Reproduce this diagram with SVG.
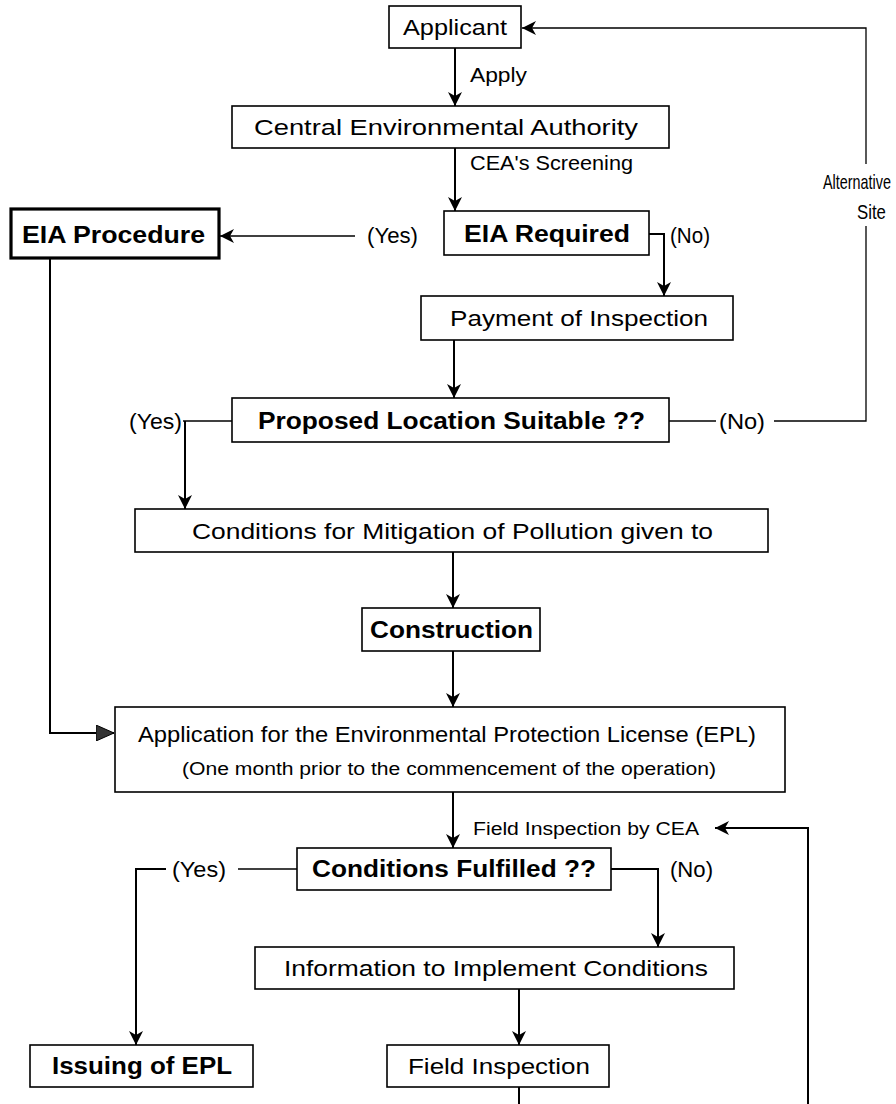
<svg xmlns="http://www.w3.org/2000/svg" width="896" height="1104" viewBox="0 0 896 1104">
<style>
.box{fill:#fff;stroke:#000;stroke-width:1.6}
.thick{fill:#fff;stroke:#000;stroke-width:3.2}
.t{font-family:"Liberation Sans Narrow","Liberation Sans",Arial,sans-serif;font-size:22px;fill:#000}
.b{font-weight:bold;font-size:23px}
.s{font-size:20px}
.xs{font-size:18px}
.c{fill:none;stroke:#000;stroke-width:2}
.l{fill:none;stroke:#000;stroke-width:1.3}
</style>
<defs>
<marker id="ah" markerUnits="userSpaceOnUse" markerWidth="16" markerHeight="14" refX="14" refY="7" orient="auto">
<path d="M0,0 L14,7 L0,14 L4,7 Z" fill="#000"/>
</marker>
<marker id="ahg" markerUnits="userSpaceOnUse" markerWidth="20" markerHeight="16" refX="18" refY="8" orient="auto">
<path d="M0,0 L18,8 L0,16 Z" fill="#333" stroke="#000" stroke-width="1"/>
</marker>
</defs>
<rect width="896" height="1104" fill="#fff"/>
<g id="connectors">
<line class="c" x1="455" y1="48" x2="455" y2="106" marker-end="url(#ah)"/>
<line class="c" x1="455" y1="148" x2="455" y2="211" marker-end="url(#ah)"/>
<line class="l" x1="355" y1="236" x2="220" y2="236" marker-end="url(#ah)"/>
<polyline class="c" points="649,234 664,234 664,296" marker-end="url(#ah)"/>
<line class="c" x1="454" y1="340" x2="454" y2="398" marker-end="url(#ah)"/>
<line class="l" x1="183" y1="421" x2="232" y2="421"/>
<line class="c" x1="185" y1="421" x2="185" y2="509" marker-end="url(#ah)"/>
<line class="l" x1="669" y1="421" x2="716" y2="421"/>
<polyline class="l" points="774,421 866,421 866,226"/>
<polyline class="l" points="866,164 866,28 522,28" marker-end="url(#ah)"/>
<line class="c" x1="453" y1="552" x2="453" y2="608" marker-end="url(#ah)"/>
<line class="c" x1="453" y1="651" x2="453" y2="707" marker-end="url(#ah)"/>
<polyline class="c" points="50,258 50,733 114,733" marker-end="url(#ahg)"/>
<line class="c" x1="453" y1="792" x2="453" y2="848" marker-end="url(#ah)"/>
<polyline class="c" points="808,1104 808,828 715,828" marker-end="url(#ah)"/>
<line class="l" x1="297" y1="869" x2="238" y2="869"/>
<polyline class="c" points="166,869 136,869 136,1045" marker-end="url(#ah)"/>
<polyline class="c" points="611,869 658,869 658,947" marker-end="url(#ah)"/>
<line class="c" x1="519" y1="989" x2="519" y2="1045" marker-end="url(#ah)"/>
<line class="c" x1="519" y1="1087" x2="519" y2="1104"/>
<text class="t s" x="470" y="82" textLength="57" lengthAdjust="spacingAndGlyphs">Apply</text>
<text class="t s" x="470" y="170" textLength="163" lengthAdjust="spacingAndGlyphs">CEA's Screening</text>
<text class="t" x="367" y="243" textLength="51" lengthAdjust="spacingAndGlyphs">(Yes)</text>
<text class="t" x="670" y="243" textLength="40" lengthAdjust="spacingAndGlyphs">(No)</text>
<text class="t s" transform="translate(823,189) scale(0.72,1)">Alternative</text>
<text class="t s" transform="translate(857,219) scale(0.84,1)">Site</text>
<text class="t" x="129" y="429" textLength="53" lengthAdjust="spacingAndGlyphs">(Yes)</text>
<text class="t" x="719" y="429" textLength="46" lengthAdjust="spacingAndGlyphs">(No)</text>
<text class="t xs" x="473" y="835" textLength="226" lengthAdjust="spacingAndGlyphs">Field Inspection by CEA</text>
<text class="t" x="172" y="877" textLength="54" lengthAdjust="spacingAndGlyphs">(Yes)</text>
<text class="t" x="670" y="877" textLength="43" lengthAdjust="spacingAndGlyphs">(No)</text>
</g>
<g id="applicant">
<rect class="box" x="389" y="6" width="132" height="42"/>
<text class="t" x="403" y="35" textLength="104" lengthAdjust="spacingAndGlyphs">Applicant</text>
</g>
<g id="cea">
<rect class="box" x="232" y="106" width="437" height="42"/>
<text class="t" x="254" y="135" textLength="384" lengthAdjust="spacingAndGlyphs">Central Environmental Authority</text>
</g>
<g id="eia-required">
<rect class="box" x="444" y="211" width="205" height="44"/>
<text class="t b" x="464" y="242" textLength="166" lengthAdjust="spacingAndGlyphs">EIA Required</text>
</g>
<g id="eia-procedure">
<rect class="thick" x="11" y="209" width="208" height="49"/>
<text class="t b" x="22" y="243" textLength="183" lengthAdjust="spacingAndGlyphs">EIA Procedure</text>
</g>
<g id="payment">
<rect class="box" x="421" y="296" width="312" height="44"/>
<text class="t" x="450" y="326" textLength="258" lengthAdjust="spacingAndGlyphs">Payment of Inspection</text>
</g>
<g id="location">
<rect class="box" x="232" y="398" width="437" height="44"/>
<text class="t b" x="258" y="429" textLength="387" lengthAdjust="spacingAndGlyphs">Proposed Location Suitable ??</text>
</g>
<g id="mitigation">
<rect class="box" x="135" y="509" width="633" height="43"/>
<text class="t" x="192" y="539" textLength="521" lengthAdjust="spacingAndGlyphs">Conditions for Mitigation of Pollution given to</text>
</g>
<g id="construction">
<rect class="box" x="362" y="608" width="178" height="43"/>
<text class="t b" x="370" y="638" textLength="163" lengthAdjust="spacingAndGlyphs">Construction</text>
</g>
<g id="application">
<rect class="box" x="115" y="707" width="670" height="85"/>
<text class="t" x="138" y="742" textLength="618" lengthAdjust="spacingAndGlyphs">Application for the Environmental Protection License (EPL)</text>
<text class="t xs" x="182" y="775" textLength="534" lengthAdjust="spacingAndGlyphs">(One month prior to the commencement of the operation)</text>
</g>
<g id="fulfilled">
<rect class="box" x="297" y="848" width="314" height="42"/>
<text class="t b" x="312" y="877" textLength="284" lengthAdjust="spacingAndGlyphs">Conditions Fulfilled ??</text>
</g>
<g id="information">
<rect class="box" x="255" y="947" width="479" height="42"/>
<text class="t" x="284" y="976" textLength="424" lengthAdjust="spacingAndGlyphs">Information to Implement Conditions</text>
</g>
<g id="issuing">
<rect class="box" x="30" y="1045" width="223" height="42"/>
<text class="t b" x="52" y="1074" textLength="180" lengthAdjust="spacingAndGlyphs">Issuing of EPL</text>
</g>
<g id="field-inspection">
<rect class="box" x="387" y="1045" width="222" height="42"/>
<text class="t" x="408" y="1074" textLength="182" lengthAdjust="spacingAndGlyphs">Field Inspection</text>
</g>
</svg>
